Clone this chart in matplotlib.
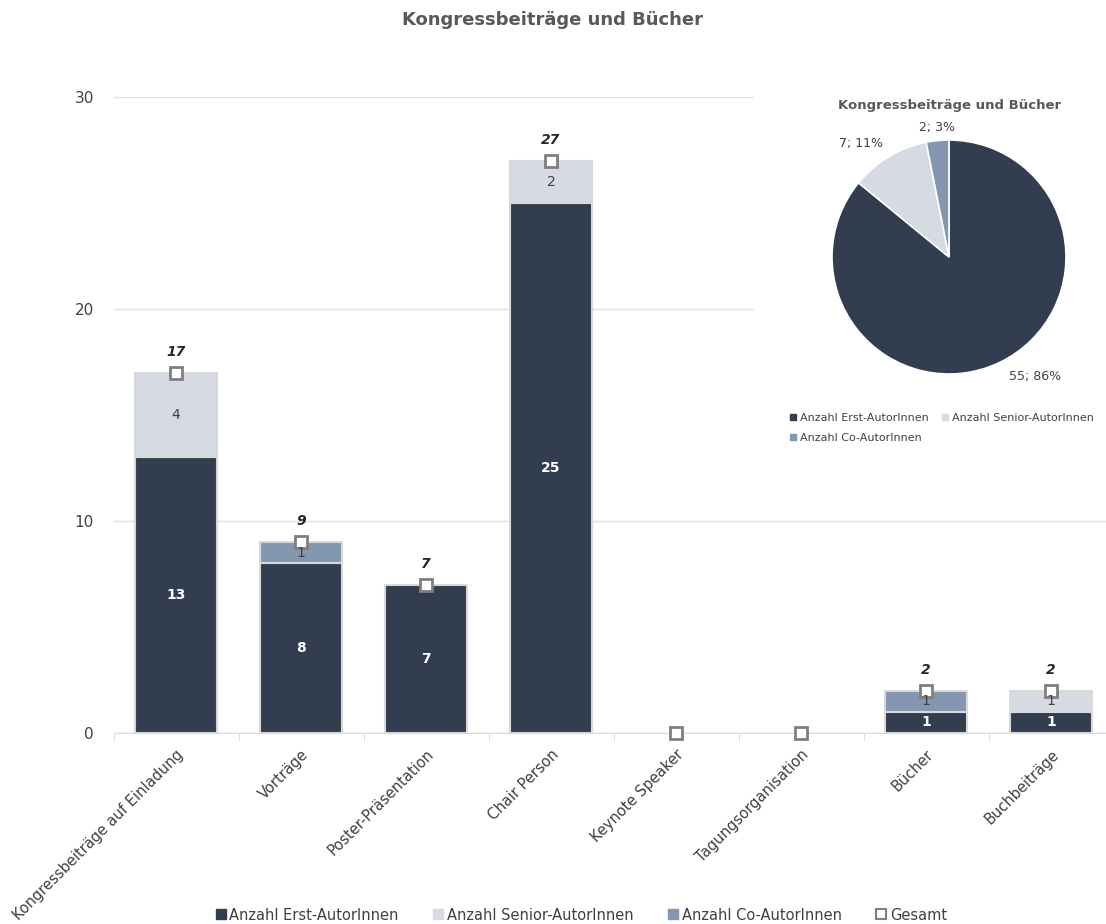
import matplotlib.pyplot as plt
import numpy as np
from matplotlib.patches import Rectangle
from matplotlib.lines import Line2D

categories = ["Kongressbeiträge auf Einladung", "Vorträge", "Poster-Präsentation", "Chair Person",
              "Keynote Speaker", "Tagungsorganisation", "Bücher", "Buchbeiträge"]
erst = [13, 8, 7, 25, 0, 0, 1, 1]
senior = [4, 0, 0, 2, 0, 0, 0, 1]
co = [0, 1, 0, 0, 0, 0, 1, 0]
gesamt = [17, 9, 7, 27, 0, 0, 2, 2]

series_names = ["Anzahl Erst-AutorInnen", "Anzahl Senior-AutorInnen", "Anzahl Co-AutorInnen"]
colors = ["#333d50", "#d5dae3", "#8497b0"]
title = "Kongressbeiträge und Bücher"

plt.rcParams['font.family'] = ['DejaVu Sans']
W, H = 1106, 924
fig = plt.figure(figsize=(W / 100, H / 100), dpi=100)

# main bar axes (pixel layout -> figure fractions)
left, right, top, bottom = 113.5, 1113.5, 97, 733
ax = fig.add_axes([left / W, 1 - bottom / H, (right - left) / W, (bottom - top) / H], zorder=1)

x = np.arange(len(categories))
width = 0.656
erst_a, senior_a, co_a = np.array(erst), np.array(senior), np.array(co)
bottoms = [np.zeros(len(x)), erst_a, erst_a + senior_a]
for vals, bot, col in zip([erst_a, senior_a, co_a], bottoms, colors):
    # skip empty segments so no outline shows for zero values
    m = vals > 0
    ax.bar(x[m], vals[m], width, bottom=bot[m], color=col, edgecolor="#d9d9d9", linewidth=1.5, zorder=3)

ax.plot(x, gesamt, linestyle="none", marker="s", markersize=9, markerfacecolor="white",
        markeredgecolor="#7f7f7f", markeredgewidth=2, zorder=5, clip_on=False)

for i in range(len(categories)):
    if erst[i] > 0:
        ax.text(x[i], erst[i] / 2, str(erst[i]), ha="center", va="center", color="white",
                fontsize=10, fontweight="bold", zorder=6)
    if senior[i] > 0:
        ax.text(x[i], erst[i] + senior[i] / 2, str(senior[i]), ha="center", va="center",
                color="#404040", fontsize=10, zorder=6)
    if co[i] > 0:
        ax.text(x[i], erst[i] + senior[i] + co[i] / 2, str(co[i]), ha="center", va="center",
                color="#404040", fontsize=10, zorder=6)
    if gesamt[i] > 0:
        ax.annotate(str(gesamt[i]), xy=(x[i], gesamt[i]), xytext=(0, 10), textcoords="offset points",
                    ha="center", va="bottom", fontsize=10, fontweight="bold", fontstyle="italic",
                    color="#262626", zorder=6)

ax.set_xlim(-0.5, len(categories) - 0.5)
ax.set_ylim(0, 30)
ax.set_yticks([0, 10, 20, 30])
ax.set_xticks(x)
ax.set_xticklabels(categories, rotation=45, ha="right", rotation_mode="anchor", fontsize=10.5, color="#404040")
ax.set_xticks(np.arange(len(categories) + 1) - 0.5, minor=True)
ax.tick_params(axis="x", which="major", length=0, pad=10)
ax.tick_params(axis="x", which="minor", length=6, color="#d9d9d9")
ax.tick_params(axis="y", length=0, labelsize=11, labelcolor="#404040", pad=14)
ax.grid(axis="y", color="#e0e0e0", linewidth=1)
ax.set_axisbelow(True)
for s in ["top", "right", "left"]:
    ax.spines[s].set_visible(False)
ax.spines["bottom"].set_color("#d9d9d9")

fig.text(0.5, 1 - 20 / H, title, ha="center", va="center", fontsize=13, fontweight="bold", color="#595959")

# white box behind the pie chart
fig.patches.append(Rectangle((754 / W, 1 - 460 / H), (W - 754) / W, 375 / H, transform=fig.transFigure,
                             facecolor="white", edgecolor="none", zorder=1.5))

# pie chart
pie_vals = [sum(erst), sum(senior), sum(co)]
total = sum(pie_vals)
cx, cy, r = 949, 257, 117
pax = fig.add_axes([(cx - r) / W, 1 - (cy + r) / H, 2 * r / W, 2 * r / H], zorder=2)
pax.pie(pie_vals, colors=colors, startangle=90, counterclock=False,
        wedgeprops=dict(edgecolor="white", linewidth=1.2), radius=1)
pax.set_xlim(-1, 1)
pax.set_ylim(-1, 1)
pax.axis("off")

# pie labels (value; percent)
label_pos = [(1035, 377), (861, 143), (937, 127)]
for v, (lx, ly) in zip(pie_vals, label_pos):
    fig.text(lx / W, 1 - ly / H, f"{v}; {round(100 * v / total)}%", ha="center", va="center",
             fontsize=9, color="#404040", zorder=3)
fig.text(950 / W, 1 - 105 / H, title, ha="center", va="center", fontsize=9.5, fontweight="bold",
         color="#595959", zorder=3)

pie_handles = [Line2D([], [], marker="s", linestyle="none", markersize=4, color=c) for c in colors]
fig.legend(pie_handles[:2], series_names[:2], loc="center left", bbox_to_anchor=(782 / W, 1 - 418 / H),
           ncol=2, frameon=False, fontsize=8, labelcolor="#404040", handletextpad=0.1, columnspacing=1.0,
           borderpad=0, handlelength=1)
fig.legend(pie_handles[2:], series_names[2:], loc="center left", bbox_to_anchor=(782 / W, 1 - 438 / H),
           frameon=False, fontsize=8, labelcolor="#404040", handletextpad=0.1, borderpad=0, handlelength=1)

# main legend
handles = [Line2D([], [], marker="s", linestyle="none", markersize=7, color=c) for c in colors]
handles.append(Line2D([], [], marker="s", linestyle="none", markersize=7, markerfacecolor="white",
                      markeredgecolor="#7f7f7f", markeredgewidth=1.5))
fig.legend(handles, series_names + ["Gesamt"], loc="center", bbox_to_anchor=(580 / W, 1 - 915 / H),
           ncol=4, frameon=False, fontsize=10.5, labelcolor="#404040", handletextpad=0.1,
           columnspacing=2.2, borderpad=0, handlelength=1)

fig.savefig("out.png", dpi=100, facecolor="white")
